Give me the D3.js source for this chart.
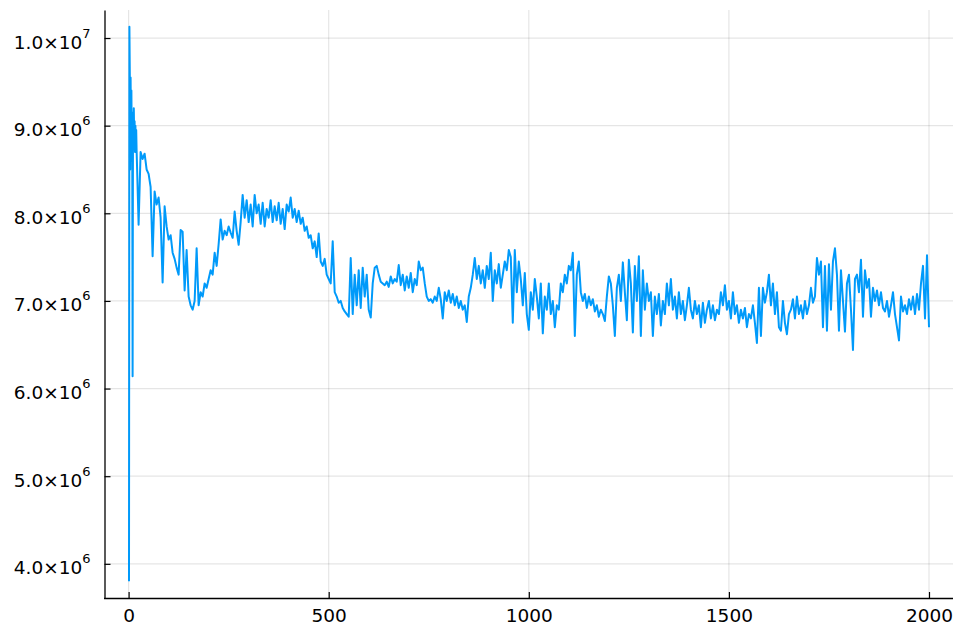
<!DOCTYPE html>
<html>
<head>
<meta charset="utf-8">
<script src="https://cdn.jsdelivr.net/npm/d3@7"></script>
<style>
  html, body { margin: 0; padding: 0; background: #fff; }
  svg { display: block; font-family: "DejaVu Sans", sans-serif; }
</style>
</head>
<body>
<svg id="chart" width="956" height="628"></svg>
<script>
// Objective value per iteration, in millions.
// Iterations 1..20, one value each.
const earlyValues = [
  3.80, 10.13, 9.60, 8.50, 9.55, 8.90, 9.40, 8.60, 9.15, 6.14,
  9.10, 8.75, 9.20, 8.85, 9.05, 8.70, 9.00, 8.80, 8.95, 8.72
];

// Iterations 25, 30, ..., 2000.
const laterStart = 25;
const laterStride = 5;
const laterValues = [
  7.87, 8.70, 8.62, 8.68, 8.50, 8.45, 8.30, 7.51, 8.25, 8.10,
  8.18, 7.95, 7.21, 8.08, 7.85, 7.70, 7.75, 7.55, 7.48, 7.38,
  7.30, 7.81, 7.79, 7.12, 7.58, 7.05, 6.95, 6.90, 7.00, 7.60,
  6.95, 7.10, 7.05, 7.20, 7.15, 7.25, 7.35, 7.30, 7.55, 7.40,
  7.65, 7.93, 7.70, 7.80, 7.75, 7.85, 7.78, 7.72, 8.02, 7.80,
  7.64, 7.90, 8.21, 7.95, 8.15, 7.90, 8.10, 7.85, 8.21, 8.00,
  8.10, 7.88, 8.12, 7.85, 8.05, 7.95, 8.15, 7.90, 8.08, 7.92,
  8.12, 7.88, 8.05, 7.82, 8.10, 8.02, 8.18, 7.95, 8.05, 7.90,
  8.03, 7.88, 7.95, 7.80, 7.85, 7.72, 7.75, 7.60, 7.68, 7.50,
  7.77, 7.45, 7.40, 7.48, 7.30, 7.25, 7.20, 7.68, 7.10, 7.05,
  6.98, 7.00, 6.92, 6.88, 6.85, 6.82, 7.49, 6.85, 7.30, 6.95,
  7.35, 6.92, 7.38, 7.05, 7.30, 6.90, 6.81, 7.20, 7.38, 7.40,
  7.30, 7.22, 7.20, 7.18, 7.22, 7.16, 7.28, 7.20, 7.25, 7.22,
  7.41, 7.18, 7.30, 7.12, 7.28, 7.15, 7.32, 7.10, 7.25, 7.18,
  7.45, 7.35, 7.38, 7.20, 7.05, 7.00, 7.02, 6.98, 7.05, 7.00,
  7.15, 7.02, 6.80, 7.10, 7.00, 7.12, 6.98, 7.08, 6.95, 7.05,
  6.92, 7.00, 6.90, 6.95, 6.76, 7.05, 7.15, 7.30, 7.49, 7.25,
  7.40, 7.20, 7.35, 7.15, 7.40, 7.25, 7.55, 7.00, 7.35, 7.20,
  7.42, 7.15, 7.30, 7.45, 7.35, 7.58, 7.50, 6.75, 7.58, 7.10,
  7.45, 7.25, 6.95, 7.32, 6.85, 6.67, 7.10, 6.90, 7.25, 7.05,
  6.80, 7.20, 6.63, 7.05, 6.90, 7.20, 6.85, 7.00, 6.70, 6.95,
  6.90, 7.20, 7.10, 7.30, 7.20, 7.40, 7.35, 7.55, 6.60, 7.30,
  7.45, 7.10, 7.00, 7.08, 6.92, 7.05, 6.95, 7.02, 6.88, 6.95,
  6.82, 6.90, 6.85, 6.77, 7.05, 7.28, 7.20, 6.95, 6.60, 7.15,
  7.30, 7.00, 7.44, 7.10, 6.78, 7.47, 7.20, 6.64, 7.40, 7.00,
  7.51, 6.60, 7.35, 6.90, 7.20, 7.00, 7.10, 6.60, 7.05, 6.85,
  7.08, 6.72, 7.00, 6.85, 7.20, 6.95, 7.25, 6.90, 7.05, 6.80,
  7.10, 6.85, 7.00, 6.78, 6.95, 7.15, 6.90, 6.80, 7.00, 6.85,
  6.95, 6.70, 6.98, 6.75, 6.90, 7.00, 6.80, 6.95, 6.78, 6.90,
  6.85, 7.10, 6.95, 7.18, 6.90, 7.00, 6.80, 7.10, 6.85, 6.95,
  6.75, 6.90, 6.80, 6.92, 6.70, 6.85, 6.80, 6.95, 6.75, 6.52,
  7.15, 6.60, 7.15, 6.98, 7.10, 7.30, 6.95, 7.20, 6.85, 7.10,
  6.70, 6.66, 7.00, 6.75, 6.62, 6.85, 6.90, 7.02, 6.80, 7.05,
  6.85, 6.95, 6.80, 7.00, 6.85, 6.95, 7.15, 6.98, 7.05, 7.49,
  7.30, 7.45, 6.70, 7.40, 6.66, 7.42, 6.90, 7.45, 7.60, 7.30,
  6.66, 7.35, 7.00, 6.65, 7.20, 7.30, 6.90, 6.44, 7.25, 7.30,
  7.10, 7.47, 6.82, 7.35, 7.15, 7.25, 6.82, 7.15, 7.00, 7.12,
  6.95, 7.10, 6.92, 6.88, 7.00, 6.82, 6.95, 7.10, 6.85, 6.70,
  6.55, 7.05, 6.88, 6.95, 6.85, 7.02, 6.90, 7.05, 6.85, 7.08,
  6.90, 7.20, 7.40, 6.80, 7.52, 6.70
];

const valueUnit = 1e6;

const xTicks = [0, 500, 1000, 1500, 2000];
const xTickLabels = ["0", "500", "1000", "1500", "2000"];
const yTicks = [4e6, 5e6, 6e6, 7e6, 8e6, 9e6, 1e7];
const yTickMantissas = ["4.0", "5.0", "6.0", "7.0", "8.0", "9.0", "1.0"];
const yTickExponents = ["6", "6", "6", "6", "6", "6", "7"];

const series = earlyValues.map((v, i) => ({ iter: i + 1, value: v * valueUnit }))
  .concat(laterValues.map((v, i) => ({ iter: laterStart + i * laterStride, value: v * valueUnit })));

const plot = { left: 105, right: 953, top: 10, bottom: 598 };

// Axis limits padded by 3% of the data span on each side.
function padded(extent) {
  const pad = (extent[1] - extent[0]) * 0.03;
  return [extent[0] - pad, extent[1] + pad];
}

const x = d3.scaleLinear()
  .domain(padded(d3.extent(series, d => d.iter)))
  .range([plot.left, plot.right]);

const y = d3.scaleLinear()
  .domain(padded(d3.extent(series, d => d.value)))
  .range([plot.bottom, plot.top]);

const svg = d3.select("#chart");

// Grid
const grid = svg.append("g").attr("stroke", "#000").attr("stroke-opacity", 0.1).attr("stroke-width", 1.2);
grid.selectAll("line.v").data(xTicks).join("line")
  .attr("class", "v")
  .attr("x1", d => x(d)).attr("x2", d => x(d))
  .attr("y1", plot.top).attr("y2", plot.bottom);
grid.selectAll("line.h").data(yTicks).join("line")
  .attr("class", "h")
  .attr("x1", plot.left).attr("x2", plot.right)
  .attr("y1", d => y(d)).attr("y2", d => y(d));

// Series line
const line = d3.line().x(d => x(d.iter)).y(d => y(d.value));
svg.append("path")
  .datum(series)
  .attr("fill", "none")
  .attr("stroke", "#009AFA")
  .attr("stroke-width", 2)
  .attr("stroke-linejoin", "round")
  .attr("d", line);

// Axes with inward ticks
const xAxis = d3.axisBottom(x).tickValues(xTicks).tickSizeInner(-6).tickSizeOuter(0)
  .tickFormat((d, i) => xTickLabels[i]);
const gx = svg.append("g").attr("transform", `translate(0,${plot.bottom})`).call(xAxis);
gx.select(".domain").attr("d", `M${plot.left - 1},0.5H${plot.right}`);
gx.selectAll(".tick text").attr("y", 11).attr("dy", "0.71em");

const yAxis = d3.axisLeft(y).tickValues(yTicks).tickSizeInner(-6).tickSizeOuter(0).tickFormat("");
const gy = svg.append("g").attr("transform", `translate(${plot.left - 0.5},0)`).call(yAxis);

[gx, gy].forEach(g => {
  g.select(".domain").attr("stroke", "#000").attr("stroke-width", 1.3);
  g.selectAll(".tick line").attr("stroke", "#000").attr("stroke-width", 1.2);
  g.selectAll(".tick text").attr("fill", "#000").attr("font-size", 18.5)
    .attr("font-family", "DejaVu Sans, sans-serif");
});

gy.selectAll(".tick").each(function (d, i) {
  const t = d3.select(this).append("text")
    .attr("fill", "#000")
    .attr("font-family", "DejaVu Sans, sans-serif")
    .attr("text-anchor", "end")
    .attr("x", -14)
    .attr("y", 10);
  t.append("tspan").attr("font-size", 18.5).text(yTickMantissas[i] + "×10");
  t.append("tspan").attr("font-size", 13).attr("dy", -11).text(yTickExponents[i]);
});
</script>
</body>
</html>
